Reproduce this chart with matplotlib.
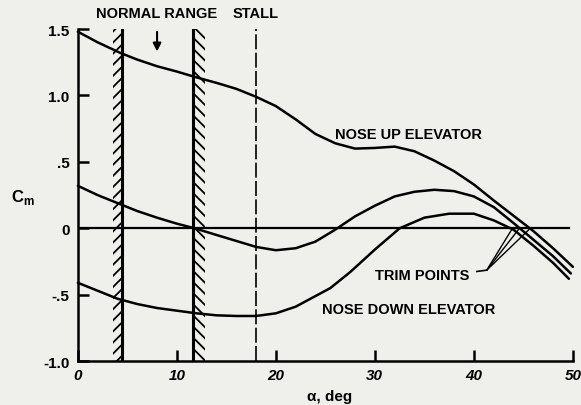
import matplotlib
matplotlib.use("Agg")
import matplotlib.pyplot as plt

# angle of attack, deg
alpha_up = [0, 2, 4.3, 6, 8, 10, 11.8, 14, 16, 18, 20, 22, 24, 26, 28, 30, 32, 34, 36, 38, 40, 42, 44, 46, 48, 50]
cm_up = [1.48, 1.40, 1.32, 1.27, 1.22, 1.18, 1.14, 1.095, 1.05, 0.99, 0.92, 0.82, 0.71, 0.64, 0.60, 0.605, 0.615, 0.58, 0.51, 0.43, 0.33, 0.21, 0.095, -0.02, -0.15, -0.29]

alpha_mid = [0, 2, 4, 6, 8, 10, 11.8, 14, 16, 18, 20, 22, 24, 26, 28, 30, 32, 34, 36, 38, 40, 42, 44, 46, 48, 49.8]
cm_mid = [0.32, 0.25, 0.19, 0.13, 0.08, 0.035, 0.0, -0.05, -0.095, -0.14, -0.165, -0.15, -0.10, -0.01, 0.09, 0.17, 0.24, 0.275, 0.29, 0.28, 0.24, 0.16, 0.04, -0.085, -0.21, -0.34]

alpha_down = [0, 2, 4, 6, 8, 10, 12, 14, 16, 18, 20, 22, 24, 25.5, 27.5, 30, 32.5, 35, 37.5, 40, 42, 44, 46, 48, 49.6]
cm_down = [-0.41, -0.47, -0.53, -0.57, -0.60, -0.62, -0.64, -0.655, -0.66, -0.66, -0.64, -0.59, -0.51, -0.45, -0.33, -0.16, 0.0, 0.08, 0.11, 0.11, 0.06, -0.01, -0.13, -0.26, -0.38]

range_lo = 4.5     # normal range limits
range_hi = 11.6
stall = 18.0
trim_alpha = [43.9, 44.6, 45.7]

yticks = [-1.0, -0.5, 0, 0.5, 1.0, 1.5]
ytick_labels = ["-1.0", "-.5", "0", ".5", "1.0", "1.5"]
xticks = [0, 10, 20, 30, 40, 50]

bg = "#efefec"
fnt = ["Liberation Sans", "DejaVu Sans"]
plt.rcParams["hatch.linewidth"] = 1.3
plt.rcParams["mathtext.fontset"] = "custom"
plt.rcParams["mathtext.bf"] = "Liberation Sans:bold"
plt.rcParams["mathtext.rm"] = "Liberation Sans:bold"

fig = plt.figure(figsize=(5.81, 4.06), dpi=100, facecolor=bg)
ax = fig.add_axes([0.134, 0.108, 0.852, 0.818])
ax.set_facecolor(bg)
ax.set_xlim(0, 50)
ax.set_ylim(-1.0, 1.5)

for s in ["top", "right"]:
    ax.spines[s].set_visible(False)
for s in ["left", "bottom"]:
    ax.spines[s].set_linewidth(1.8)

# curves
for a, c in [(alpha_up, cm_up), (alpha_mid, cm_mid), (alpha_down, cm_down)]:
    ax.plot(a, c, color="black", lw=1.8, solid_capstyle="round", clip_on=False)

ax.plot([0, 49.6], [0, 0], color="black", lw=1.6)

# normal range hatched limits
ax.axvline(range_lo, color="black", lw=2.2)
ax.axvline(range_hi, color="black", lw=2.2)
ax.axvspan(range_lo - 1.0, range_lo, facecolor="none", edgecolor="black", lw=0, hatch="///")
ax.axvspan(range_hi, range_hi + 1.2, facecolor="none", edgecolor="black", lw=0, hatch="\\\\\\")
ax.axvline(stall, color="black", lw=1.2, linestyle=(0, (9, 2)))

# labels
ax.text(8.0, 1.62, "NORMAL RANGE", ha="center", va="center", fontsize=10.5, fontweight="bold", family=fnt)
ax.text(18.0, 1.62, "STALL", ha="center", va="center", fontsize=10.5, fontweight="bold", family=fnt)
ax.annotate("", xy=(8.0, 1.31), xytext=(8.0, 1.50),
            arrowprops=dict(arrowstyle="-|>", color="black", lw=1.5, mutation_scale=12))
ax.text(33.4, 0.71, "NOSE UP ELEVATOR", ha="center", va="center", fontsize=10.5, fontweight="bold", family=fnt)
ax.text(34.8, -0.35, "TRIM POINTS", ha="center", va="center", fontsize=10.5, fontweight="bold", family=fnt)
ax.text(33.4, -0.61, "NOSE DOWN ELEVATOR", ha="center", va="center", fontsize=10.5, fontweight="bold", family=fnt)

ax.plot([40.3, 41.3], [-0.325, -0.315], color="black", lw=1.2)
for t in trim_alpha:
    ax.annotate("", xy=(t, 0), xytext=(41.3, -0.315),
                arrowprops=dict(arrowstyle="-", color="black", lw=1.0, shrinkA=0, shrinkB=0))

ax.text(-5.6, 0.24, r"C$_\mathbf{m}$", ha="center", va="center", fontsize=12, fontweight="bold", family=fnt, clip_on=False)

ax.set_xlabel("α, deg", fontsize=11, fontweight="bold", family=fnt)
ax.xaxis.set_label_coords(0.509, -0.085)

# ticks
ax.set_yticks(yticks)
ax.set_yticklabels(ytick_labels, fontsize=11, fontweight="bold", family=fnt)
ax.set_xticks(xticks)
ax.set_xticklabels([str(x) for x in xticks], fontsize=11, fontweight="bold", style="italic", family=fnt)
ax.tick_params(axis="both", direction="in", length=8, width=1.8)
ax.tick_params(axis="y", pad=6)
ax.tick_params(axis="x", pad=5)

fig.savefig("out.png", dpi=100, facecolor=bg)
